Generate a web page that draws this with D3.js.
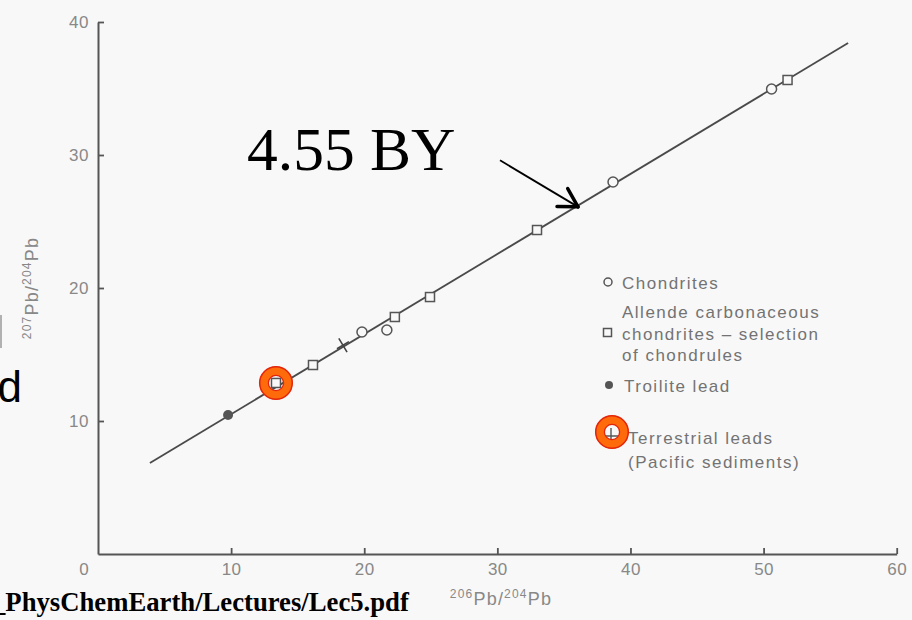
<!DOCTYPE html>
<html><head><meta charset="utf-8">
<script src="https://cdn.jsdelivr.net/npm/d3@7/dist/d3.min.js"></script>
<style>
html,body{margin:0;padding:0;background:#f8f8f8;}
svg{display:block;}
</style></head><body>
<svg id="chart" width="912" height="620"></svg>
<script>
// ---- data ----
const xTicks = [10, 20, 30, 40, 50, 60];
const yTicks = [10, 20, 30, 40];
const isochronX = [3.9, 56.35];
const isochronY = [6.84, 38.42];
const chondriteX = [19.83, 21.7, 38.69, 50.6];
const chondriteY = [16.69, 16.84, 27.97, 34.96];
const allendeX = [13.37, 16.15, 22.3, 24.94, 32.98, 51.8];
const allendeY = [12.86, 14.21, 17.82, 19.32, 24.36, 35.64];
const troiliteX = [9.77];
const troiliteY = [10.45];
const terrestrialX = [18.4];
const terrestrialY = [15.7];
const highlightX = [13.37];
const highlightY = [12.86];
const arrowX = [30.2, 36.06];
const arrowY = [29.6, 26.1];
const ageLabel = "4.55 BY";
const legendChondrites = ["Chondrites"];
const legendAllende = ["Allende carbonaceous", "chondrites – selection", "of chondrules"];
const legendTroilite = ["Troilite lead"];
const legendTerrestrial = ["Terrestrial leads", "(Pacific sediments)"];
const sourceText = "_PhysChemEarth/Lectures/Lec5.pdf";

// ---- setup ----
const svg = d3.select("#chart");
const x = d3.scaleLinear().domain([0, 60]).range([98, 896.7]);
const y = d3.scaleLinear().domain([0, 40]).range([554, 22]);
const axisColor = "#555";
const tickText = "#888";
const legendColor = "#737373";
const sans = "'Liberation Sans', Arial, Helvetica, sans-serif";
const serif = "'Liberation Serif', 'Times New Roman', serif";

svg.append("rect").attr("width", 912).attr("height", 620).attr("fill", "#f8f8f8");

// ---- axes ----
const gx = svg.append("g").attr("transform", `translate(0,${y(0)})`)
  .call(d3.axisBottom(x).tickValues(xTicks).tickSizeInner(-6).tickSizeOuter(0).tickPadding(9));
const gy = svg.append("g").attr("transform", `translate(${x(0)},0)`)
  .call(d3.axisLeft(y).tickValues(yTicks).tickSizeInner(-6).tickSizeOuter(0).tickPadding(9));
[gx, gy].forEach(g => {
  g.select(".domain").attr("stroke", axisColor).attr("stroke-width", 2);
  g.selectAll(".tick line").attr("stroke", axisColor).attr("stroke-width", 1.8);
  g.selectAll(".tick text").attr("fill", tickText).attr("font-family", sans)
    .attr("font-size", 17).attr("letter-spacing", 0.5);
});
svg.append("text").attr("x", 84).attr("y", y(0) + 9).attr("dy", "0.71em")
  .attr("text-anchor", "middle").attr("fill", tickText).attr("font-family", sans)
  .attr("font-size", 17).text("0");

// axis titles
function isoTitle(sel, a, b) {
  sel.append("tspan").attr("font-size", 12).attr("dy", -7).text(a);
  sel.append("tspan").attr("font-size", 18).attr("dy", 7).text("Pb/");
  sel.append("tspan").attr("font-size", 12).attr("dy", -7).text(b);
  sel.append("tspan").attr("font-size", 18).attr("dy", 7).text("Pb");
}
const xt = svg.append("text").attr("x", 501).attr("y", 605).attr("text-anchor", "middle")
  .attr("fill", tickText).attr("font-family", sans).attr("letter-spacing", 1.2);
isoTitle(xt, "206", "204");
const yt = svg.append("text").attr("transform", "translate(38,288) rotate(-90)")
  .attr("text-anchor", "middle").attr("fill", tickText).attr("font-family", sans)
  .attr("letter-spacing", 1.2);
isoTitle(yt, "207", "204");

// ---- isochron line ----
const linePts = isochronX.map((d, i) => [d, isochronY[i]]);
svg.append("path").datum(linePts)
  .attr("d", d3.line().x(d => x(d[0])).y(d => y(d[1])))
  .attr("stroke", "#4a4a4a").attr("stroke-width", 1.8).attr("fill", "none");

const slopeDeg = Math.atan2(y(isochronY[1]) - y(isochronY[0]), x(isochronX[1]) - x(isochronX[0])) * 180 / Math.PI;

// ---- markers ----
const markStroke = "#555";
svg.append("g").selectAll("rect").data(allendeX.map((d, i) => [d, allendeY[i]])).join("rect")
  .attr("x", d => x(d[0]) - 4.5).attr("y", d => y(d[1]) - 4.5).attr("width", 9).attr("height", 9)
  .attr("fill", "#f8f8f8").attr("stroke", markStroke).attr("stroke-width", 1.5);
svg.append("g").selectAll("circle").data(chondriteX.map((d, i) => [d, chondriteY[i]])).join("circle")
  .attr("cx", d => x(d[0])).attr("cy", d => y(d[1])).attr("r", 5)
  .attr("fill", "#f8f8f8").attr("stroke", markStroke).attr("stroke-width", 1.5);
svg.append("g").selectAll("circle").data(troiliteX.map((d, i) => [d, troiliteY[i]])).join("circle")
  .attr("cx", d => x(d[0])).attr("cy", d => y(d[1])).attr("r", 5).attr("fill", "#555");
svg.append("g").selectAll("path").data(terrestrialX.map((d, i) => [d, terrestrialY[i]])).join("path")
  .attr("transform", d => `translate(${x(d[0])},${y(d[1])}) rotate(${slopeDeg})`)
  .attr("d", "M-7,0H7M0,-8V8").attr("stroke", "#444").attr("stroke-width", 1.6).attr("fill", "none");

// highlight rings
function ring(cx, cy) {
  const g = svg.append("g").attr("transform", `translate(${cx},${cy})`);
  g.append("circle").attr("r", 12).attr("fill", "none").attr("stroke", "#ff6a0a").attr("stroke-width", 9);
  g.append("circle").attr("r", 16.3).attr("fill", "none").attr("stroke", "#e3250c").attr("stroke-width", 1.5);
  g.append("circle").attr("r", 7.6).attr("fill", "none").attr("stroke", "#e3250c").attr("stroke-width", 1.3);
}
highlightX.forEach((d, i) => ring(x(d), y(highlightY[i])));

// ---- annotation ----
svg.append("text").attr("x", 247).attr("y", 170).attr("font-family", serif)
  .attr("font-size", 61.5).attr("fill", "#000").text(ageLabel);
const ax0 = x(arrowX[0]), ay0 = y(arrowY[0]), ax1 = x(arrowX[1]), ay1 = y(arrowY[1]);
svg.append("line").attr("x1", ax0).attr("y1", ay0).attr("x2", ax1).attr("y2", ay1)
  .attr("stroke", "#000").attr("stroke-width", 1.8);
const ang = Math.atan2(ay1 - ay0, ax1 - ax0);
[-0.52, 0.52].forEach(off => {
  const a = ang + Math.PI + off;
  svg.append("line").attr("x1", ax1).attr("y1", ay1)
    .attr("x2", ax1 + 21 * Math.cos(a)).attr("y2", ay1 + 21 * Math.sin(a))
    .attr("stroke", "#000").attr("stroke-width", 3.5).attr("stroke-linecap", "round");
});

// ---- legend ----
const lg = svg.append("g").attr("font-family", sans).attr("font-size", 17)
  .attr("fill", legendColor).attr("letter-spacing", 1.5);
function legendLines(lines, tx, baselines) {
  lines.forEach((t, i) => lg.append("text").attr("x", tx).attr("y", baselines[i]).text(t));
}
lg.append("circle").attr("cx", 608).attr("cy", 282).attr("r", 4).attr("fill", "none")
  .attr("stroke", markStroke).attr("stroke-width", 1.5);
legendLines(legendChondrites, 622, [289]);
lg.append("rect").attr("x", 603.5).attr("y", 328.5).attr("width", 8).attr("height", 8)
  .attr("fill", "none").attr("stroke", markStroke).attr("stroke-width", 1.5);
legendLines(legendAllende, 622, [318, 340, 361]);
lg.append("circle").attr("cx", 609).attr("cy", 385).attr("r", 4).attr("fill", "#555");
legendLines(legendTroilite, 624, [392]);
lg.append("path").attr("d", "M603,436H619M611,428V444").attr("stroke", "#555").attr("stroke-width", 1.4);
legendLines(legendTerrestrial, 628, [444, 468]);
ring(612, 432);

// ---- page fragments ----
svg.append("text").attr("x", 22).attr("y", 402).attr("text-anchor", "end")
  .attr("font-family", sans).attr("font-size", 44).attr("fill", "#000").text("d");
svg.append("line").attr("x1", 1).attr("x2", 1).attr("y1", 315).attr("y2", 348)
  .attr("stroke", "#9a9a9a").attr("stroke-width", 1.5);
svg.append("text").attr("x", -8).attr("y", 611).attr("font-family", serif)
  .attr("font-weight", "bold").attr("font-size", 26.7).attr("fill", "#000").text(sourceText);
</script>
</body></html>
